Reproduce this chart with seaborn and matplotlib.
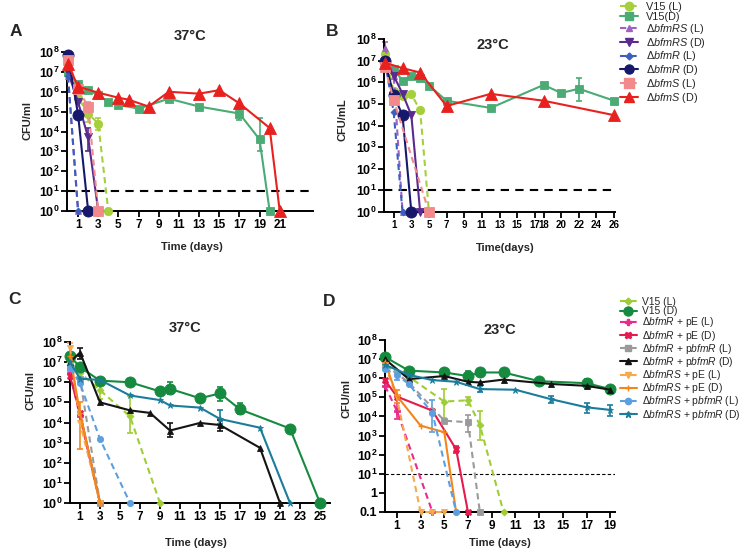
import matplotlib
matplotlib.use("Agg")
import matplotlib.pyplot as plt
import seaborn as sns
from matplotlib.lines import Line2D
from matplotlib.ticker import NullLocator

sns.set_style("ticks")
plt.rcParams['font.family'] = ['Liberation Sans', 'DejaVu Sans']
plt.rcParams['mathtext.fontset'] = 'custom'
plt.rcParams['mathtext.rm'] = 'Liberation Sans'
plt.rcParams['mathtext.it'] = 'Liberation Sans:italic'
plt.rcParams['mathtext.bf'] = 'Liberation Sans:bold'

# ---------------- Panel A (37°C) ----------------
A_V15_L_d = [0, 1, 2, 3, 4]
A_V15_L_v = [1e7, 5e5, 8e4, 2.5e4, 1]
A_V15_L_e = [(2, 3e4, 2e5), (3, 1.2e4, 5e4)]
A_V15_D_d = [0, 1, 2, 3, 4, 5, 7, 10, 13, 17, 19, 20]
A_V15_D_v = [1e7, 2.5e6, 1.2e6, 7e5, 3e5, 2.2e5, 1.4e5, 4.5e5, 1.8e5, 8e4, 4e3, 1]
A_V15_D_e = [(17, 4e4, 1.3e5), (19, 1e3, 5e4)]
A_RS_L_d = [0, 1]
A_RS_L_v = [6e6, 1]
A_RS_D_d = [0, 1, 2, 3]
A_RS_D_v = [1e7, 3e5, 5e3, 1]
A_RS_D_e = [(2, 1e3, 1.5e4)]
A_R_L_d = [0, 1]
A_R_L_v = [6e6, 1]
A_R_D_d = [0, 1, 2]
A_R_D_v = [7e7, 7e4, 1]
A_S_L_d = [0, 1, 2, 3]
A_S_L_v = [4e7, 1.3e6, 1.8e5, 1]
A_S_L_e = [(2, 6e4, 3e5)]
A_S_D_d = [0, 1, 3, 5, 6, 8, 10, 13, 15, 17, 20, 21]
A_S_D_v = [2.5e7, 1.8e6, 9e5, 5e5, 4e5, 1.8e5, 1e6, 8e5, 1.2e6, 2.6e5, 1.5e4, 1]

# ---------------- Panel B (23°C) ----------------
B_V15_L_d = [0, 1, 2, 3, 4, 5]
B_V15_L_v = [2e7, 4e5, 2.3e5, 2.8e5, 5e4, 1]
B_V15_D_d = [0, 1, 2, 3, 4, 5, 7, 12, 18, 20, 22, 26]
B_V15_D_v = [9e6, 4e6, 1.2e6, 2e6, 1.6e6, 7e5, 1.4e5, 6.5e4, 7.5e5, 3.2e5, 5e5, 1.4e5]
B_V15_D_e = [(22, 1.4e5, 1.6e6)]
B_RS_L_d = [0, 1, 2]
B_RS_L_v = [4e7, 2e6, 1]
B_RS_L_e = [(0, 1.5e7, 7e7)]
B_RS_D_d = [0, 1, 2, 3, 4]
B_RS_D_v = [1e7, 2e6, 3e5, 3e4, 1]
B_R_L_d = [0, 1, 2]
B_R_L_v = [1e7, 4e4, 1]
B_R_D_d = [0, 1, 2, 3]
B_R_D_v = [1e7, 2.5e5, 3e4, 1]
B_S_L_d = [0, 1, 5]
B_S_L_v = [5e6, 1.5e5, 1]
B_S_D_d = [0, 2, 4, 7, 12, 18, 26]
B_S_D_v = [8e6, 4.5e6, 2.8e6, 8e4, 2.9e5, 1.4e5, 3e4]
B_xticks = [1, 3, 5, 7, 9, 11, 13, 15, 17, 18, 20, 22, 24, 26]

# ---------------- Panel C (37°C) ----------------
C_V15_L_d = [0, 1, 3, 6, 9]
C_V15_L_v = [1e7, 3e6, 4e5, 2e4, 1]
C_V15_L_e = [(3, 1.5e5, 1.2e6), (6, 3e3, 2e5)]
C_V15_D_d = [0, 1, 3, 6, 9, 10, 13, 15, 17, 22, 25]
C_V15_D_v = [2e7, 5.6e6, 1.2e6, 1e6, 3.5e5, 4.7e5, 1.6e5, 2.8e5, 4.5e4, 5e3, 1]
C_V15_D_e = [(10, 2.5e5, 1e6), (15, 1.2e5, 6e5), (17, 2.5e4, 9e4)]
C_R_pE_L_d = [0, 1, 3]
C_R_pE_L_v = [3e6, 2e4, 1]
C_R_pE_D_d = [0, 1, 3]
C_R_pE_D_v = [2e6, 3e4, 1]
C_R_pB_L_d = [0, 1, 3]
C_R_pB_L_v = [5e6, 1.5e6, 1]
C_R_pB_D_d = [0, 1, 3, 6, 8, 10, 13, 15, 19, 21]
C_R_pB_D_v = [1e7, 3e7, 1e5, 4e4, 3e4, 4e3, 9.5e3, 7.5e3, 5.5e2, 1]
C_R_pB_D_e = [(1, 1.5e7, 5e7), (10, 2e3, 1e4), (15, 4e3, 1.3e4)]
C_RS_pE_L_d = [0, 1, 3]
C_RS_pE_L_v = [5e7, 1e4, 1]
C_RS_pE_L_e = [(0, 1.5e7, 9e7)]
C_RS_pE_D_d = [0, 1, 3]
C_RS_pE_D_v = [2e7, 3e4, 1]
C_RS_pE_D_e = [(1, 5e2, 1e5)]
C_RS_pB_L_d = [0, 1, 3, 6]
C_RS_pB_L_v = [5e6, 9e5, 1.5e3, 1]
C_RS_pB_D_d = [0, 1, 3, 6, 9, 10, 13, 15, 19, 22]
C_RS_pB_D_v = [1e7, 1.5e6, 1.3e6, 2.2e5, 1.3e5, 7e4, 5.5e4, 1.5e4, 5.5e3, 1]
C_RS_pB_D_e = [(15, 8e3, 4e4)]

# ---------------- Panel D (23°C) ----------------
D_V15_L_d = [0, 2, 5, 7, 8, 10]
D_V15_L_v = [4e6, 1.2e6, 6e4, 7e4, 3.5e3, 0.1]
D_V15_L_e = [(5, 8e3, 2.7e5), (7, 4e4, 1e5), (8, 6e2, 2e4)]
D_V15_D_d = [0, 2, 5, 7, 8, 10, 13, 17, 19]
D_V15_D_v = [1.3e7, 2.5e6, 2e6, 1.3e6, 2e6, 2e6, 7e5, 5.5e5, 2.7e5]
D_V15_D_e = [(7, 8e5, 2.5e6), (10, 1.3e6, 3e6), (17, 3e5, 9e5), (19, 1.6e5, 4e5)]
D_R_pE_L_d = [0, 1, 4]
D_R_pE_L_v = [4e5, 2e4, 0.1]
D_R_pE_L_e = [(1, 7e3, 1e5)]
D_R_pE_D_d = [0, 1, 4, 6, 7]
D_R_pE_D_v = [8e5, 1.1e5, 2e4, 1.9e2, 0.1]
D_R_pE_D_e = [(6, 1.2e2, 3e2)]
D_R_pB_L_d = [0, 2, 5, 7, 8]
D_R_pB_L_v = [5e6, 6e5, 6e3, 5e3, 0.1]
D_R_pB_L_e = [(7, 1.5e3, 1.2e4)]
D_R_pB_D_d = [0, 2, 5, 7, 8, 10, 14, 17, 19]
D_R_pB_D_v = [1e7, 9e5, 1.3e6, 6.5e5, 6e5, 8.5e5, 5e5, 4e5, 2.5e5]
D_RS_pE_L_d = [0, 1, 3, 4, 5]
D_RS_pE_L_v = [5e6, 1e5, 0.1, 0.1, 0.1]
D_RS_pE_D_d = [0, 1, 3, 5, 6]
D_RS_pE_D_v = [7e6, 1.2e5, 3.3e3, 1.5e3, 0.1]
D_RS_pE_D_e = [(1, 5e4, 2.5e5)]
D_RS_pB_L_d = [0, 1, 2, 4, 6]
D_RS_pB_L_v = [3e6, 1.5e6, 5e5, 1.5e4, 0.1]
D_RS_pB_L_e = [(1, 8e5, 2.5e6), (4, 1.5e3, 7e4)]
D_RS_pB_D_d = [0, 2, 4, 6, 8, 11, 14, 17, 19]
D_RS_pB_D_v = [5e6, 1.5e6, 8e5, 6.5e5, 2.7e5, 2.5e5, 8e4, 3e4, 2.2e4]
D_RS_pB_D_e = [(8, 1.8e5, 4e5), (14, 5e4, 1.2e5), (17, 1.5e4, 5e4), (19, 1e4, 4e4)]

TOP_LABELS = ["V15 (L)", "V15(D)", "Δ$\\mathit{bfmRS}$ (L)", "Δ$\\mathit{bfmRS}$ (D)",
              "Δ$\\mathit{bfmR}$ (L)", "Δ$\\mathit{bfmR}$ (D)", "Δ$\\mathit{bfmS}$ (L)", "Δ$\\mathit{bfmS}$ (D)"]
BOT_LABELS = ["V15 (L)", "V15 (D)",
              "Δ$\\mathit{bfmR}$ + pE (L)", "Δ$\\mathit{bfmR}$ + pE (D)",
              "Δ$\\mathit{bfmR}$ + p$\\mathit{bfmR}$ (L)", "Δ$\\mathit{bfmR}$ + p$\\mathit{bfmR}$ (D)",
              "Δ$\\mathit{bfmRS}$ + pE (L)", "Δ$\\mathit{bfmRS}$ + pE (D)",
              "Δ$\\mathit{bfmRS}$ + p$\\mathit{bfmR}$ (L)", "Δ$\\mathit{bfmRS}$ + p$\\mathit{bfmR}$ (D)"]

DASH = (0, (3.0, 2.0))
SOLID = '-'

# style per series: (color, marker, markersize, linestyle)
TOP_STYLE = [("#a6cf3c", 'o', 6, DASH), ("#4aab74", 's', 6, SOLID),
             ("#a062c0", '^', 5, DASH), ("#5a2a8e", 'v', 6, SOLID),
             ("#3a5fbf", 'D', 3.5, DASH), ("#16186c", 'o', 8, SOLID),
             ("#f28a8c", 's', 7, DASH), ("#e8211f", '^', 8.5, SOLID)]
BOT_STYLE = [("#9fcd35", 'D', 3.5, DASH), ("#168a3f", 'o', 8, SOLID),
             ("#ea2a8c", 'P', 4, DASH), ("#e51a4e", 'X', 5, SOLID),
             ("#9a9a9a", 's', 5, DASH), ("#141414", '^', 4, SOLID),
             ("#f7a84c", 'v', 5, DASH), ("#f2861c", '+', 5, SOLID),
             ("#5c9fe0", 'o', 4.5, DASH), ("#1b7c9c", '*', 5, SOLID)]

A_SERIES = [(A_V15_L_d, A_V15_L_v, A_V15_L_e), (A_V15_D_d, A_V15_D_v, A_V15_D_e),
            (A_RS_L_d, A_RS_L_v, []), (A_RS_D_d, A_RS_D_v, A_RS_D_e),
            (A_R_L_d, A_R_L_v, []), (A_R_D_d, A_R_D_v, []),
            (A_S_L_d, A_S_L_v, A_S_L_e), (A_S_D_d, A_S_D_v, [])]
B_SERIES = [(B_V15_L_d, B_V15_L_v, []), (B_V15_D_d, B_V15_D_v, B_V15_D_e),
            (B_RS_L_d, B_RS_L_v, B_RS_L_e), (B_RS_D_d, B_RS_D_v, []),
            (B_R_L_d, B_R_L_v, []), (B_R_D_d, B_R_D_v, []),
            (B_S_L_d, B_S_L_v, []), (B_S_D_d, B_S_D_v, [])]
C_SERIES = [(C_V15_L_d, C_V15_L_v, C_V15_L_e), (C_V15_D_d, C_V15_D_v, C_V15_D_e),
            (C_R_pE_L_d, C_R_pE_L_v, []), (C_R_pE_D_d, C_R_pE_D_v, []),
            (C_R_pB_L_d, C_R_pB_L_v, []), (C_R_pB_D_d, C_R_pB_D_v, C_R_pB_D_e),
            (C_RS_pE_L_d, C_RS_pE_L_v, C_RS_pE_L_e), (C_RS_pE_D_d, C_RS_pE_D_v, C_RS_pE_D_e),
            (C_RS_pB_L_d, C_RS_pB_L_v, []), (C_RS_pB_D_d, C_RS_pB_D_v, C_RS_pB_D_e)]
D_SERIES = [(D_V15_L_d, D_V15_L_v, D_V15_L_e), (D_V15_D_d, D_V15_D_v, D_V15_D_e),
            (D_R_pE_L_d, D_R_pE_L_v, D_R_pE_L_e), (D_R_pE_D_d, D_R_pE_D_v, D_R_pE_D_e),
            (D_R_pB_L_d, D_R_pB_L_v, D_R_pB_L_e), (D_R_pB_D_d, D_R_pB_D_v, []),
            (D_RS_pE_L_d, D_RS_pE_L_v, []), (D_RS_pE_D_d, D_RS_pE_D_v, D_RS_pE_D_e),
            (D_RS_pB_L_d, D_RS_pB_L_v, D_RS_pB_L_e), (D_RS_pB_D_d, D_RS_pB_D_v, D_RS_pB_D_e)]

W, H = 749, 553
fig = plt.figure(figsize=(W / 100, H / 100), dpi=100)


def px_axes(x0, ytop, x1, ybot):
    return fig.add_axes([x0 / W, 1 - ybot / H, (x1 - x0) / W, (ybot - ytop) / H])


def sup(n):
    return r"$\mathbf{10^{%d}}$" % n


def setup(ax, xlim, xticks, ylo, xfs=8.5):
    ax.set_yscale('log')
    ax.set_xlim(*xlim)
    ax.set_ylim(ylo, 1e8)
    ax.set_xticks(xticks)
    ax.set_xticklabels([str(t) for t in xticks], fontweight='bold', fontsize=xfs)
    if ylo >= 1:
        yt = [10 ** k for k in range(0, 9)]
        yl = [sup(k) for k in range(0, 9)]
    else:
        yt = [0.1, 1] + [10 ** k for k in range(1, 9)]
        yl = ["0.1", "1"] + [sup(k) for k in range(1, 9)]
    ax.set_yticks(yt)
    ax.set_yticklabels(yl, fontsize=9, fontweight='bold')
    ax.yaxis.set_minor_locator(NullLocator())
    for s in ['top', 'right']:
        ax.spines[s].set_visible(False)
    for s in ['left', 'bottom']:
        ax.spines[s].set_linewidth(1.4)
        ax.spines[s].set_color('black')
    ax.tick_params(width=1.3, length=4, direction='out', pad=1.5, colors='black')
    ax.set_facecolor('none')


def draw_series(ax, series, styles):
    handles = []
    for (d, v, errs), (c, m, ms, ls) in zip(series, styles):
        sns.lineplot(x=d, y=v, ax=ax, color=c, marker=m, markersize=ms, linestyle=ls,
                     linewidth=1.5, markeredgecolor=c, markeredgewidth=1.0 if m in '+' else 0.6,
                     clip_on=False, legend=False, errorbar=None, sort=False, zorder=3)
        if errs:
            ex = [e[0] for e in errs]
            ey = [v[d.index(e[0])] for e in errs]
            lo = [y - e[1] for y, e in zip(ey, errs)]
            hi = [e[2] - y for y, e in zip(ey, errs)]
            ax.errorbar(ex, ey, yerr=[lo, hi], fmt='none', ecolor=c, elinewidth=1.2,
                        capsize=2.5, capthick=1.2, zorder=2, clip_on=False)
        handles.append(Line2D([], [], color=c, marker=m, markersize=min(ms, 6.5), linestyle=ls,
                              linewidth=1.5, markeredgecolor=c))
    return handles


# Panel A
axA = px_axes(67, 52, 313, 211)
setup(axA, (-0.1, 24.3), list(range(1, 22, 2)), 1)
axA.axhline(10, color='black', lw=1.5, ls=(0, (4, 3)), zorder=1)
top_handles = draw_series(axA, A_SERIES, TOP_STYLE)

# Panel B
axB = px_axes(384, 39, 615, 212)
setup(axB, (-0.1, 26.1), B_xticks, 1, xfs=7.0)
axB.axhline(10, color='black', lw=1.5, ls=(0, (4, 3)), zorder=1)
draw_series(axB, B_SERIES, TOP_STYLE)

# Panel C
axC = px_axes(70, 342, 330, 503)
setup(axC, (0, 26), list(range(1, 26, 2)), 1)
bot_handles = draw_series(axC, C_SERIES, BOT_STYLE)

# Panel D
axD = px_axes(385, 340, 615, 512)
setup(axD, (0, 19.4), list(range(1, 20, 2)), 0.1)
axD.axhline(10, color='black', lw=0.8, ls=(0, (3, 2)), zorder=1)
draw_series(axD, D_SERIES, BOT_STYLE)


def ftext(x, y, s, **kw):
    fig.text(x / W, 1 - y / H, s, **kw)


# panel letters
ftext(10, 32, "A", fontsize=12.5, fontweight='bold', va='center')
ftext(326, 31, "B", fontsize=12.5, fontweight='bold', va='center')
ftext(8, 300, "C", fontsize=12.5, fontweight='bold', va='center')
ftext(323, 301, "D", fontsize=12.5, fontweight='bold', va='center')
# titles
ftext(190, 36, "37°C", fontsize=10.5, fontweight='bold', ha='center', va='center')
ftext(493, 45, "23°C", fontsize=10.5, fontweight='bold', ha='center', va='center')
ftext(185, 328, "37°C", fontsize=10.5, fontweight='bold', ha='center', va='center')
ftext(500, 330, "23°C", fontsize=10.5, fontweight='bold', ha='center', va='center')
# y labels
ftext(28, 120, "CFU/ml", fontsize=8, fontweight='bold', rotation=90, ha='center', va='center')
ftext(343, 120, "CFU/mL", fontsize=8, fontweight='bold', rotation=90, ha='center', va='center')
ftext(30, 390, "CFU/ml", fontsize=8, fontweight='bold', rotation=90, ha='center', va='center')
ftext(347, 398, "CFU/ml", fontsize=8, fontweight='bold', rotation=90, ha='center', va='center')
# x labels
ftext(192, 247, "Time (days)", fontsize=8, fontweight='bold', ha='center', va='center')
ftext(505, 248, "Time(days)", fontsize=8, fontweight='bold', ha='center', va='center')
ftext(196, 543, "Time (days)", fontsize=8, fontweight='bold', ha='center', va='center')
ftext(500, 543, "Time (days)", fontsize=8, fontweight='bold', ha='center', va='center')

fig.legend(top_handles, TOP_LABELS, loc='upper left', bbox_to_anchor=(618 / W, 1 - 0 / H),
           frameon=False, fontsize=7.8, handlelength=1.6, handletextpad=0.8,
           labelspacing=-0.02, borderaxespad=0, borderpad=0.2)
fig.legend(bot_handles, BOT_LABELS, loc='upper left', bbox_to_anchor=(618 / W, 1 - 295 / H),
           frameon=False, fontsize=7.4, handlelength=1.6, handletextpad=0.5,
           labelspacing=-0.08, borderaxespad=0, borderpad=0.2)

fig.savefig("out.png", dpi=100)
